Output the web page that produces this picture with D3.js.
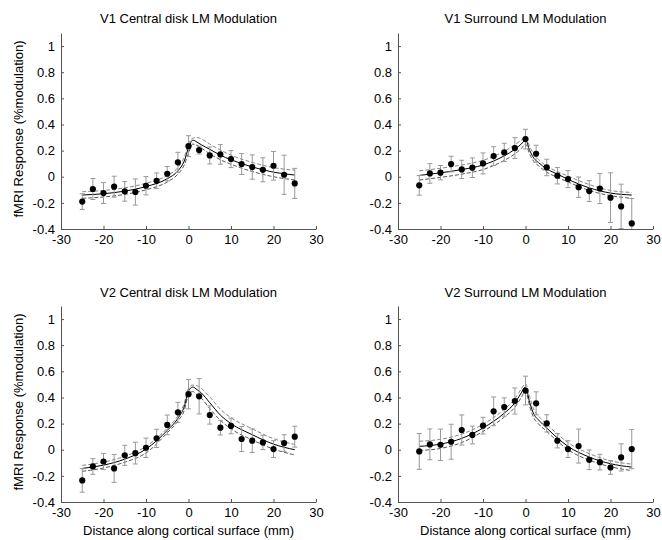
<!DOCTYPE html>
<html>
<head>
<meta charset="utf-8">
<script src="https://cdnjs.cloudflare.com/ajax/libs/d3/7.8.5/d3.min.js"></script>
<style>
  body { margin: 0; background: #fff; }
  text { font-family: "Liberation Sans", Arial, sans-serif; fill: #000; }
</style>
</head>
<body>
<div class="chart"></div>
<script>
// Distance along cortical surface (mm) for the measured points
var distances = [-25, -22.5, -20, -17.5, -15, -12.5, -10, -7.5, -5, -2.5, 0,
  2.5, 5, 7.5, 10, 12.5, 15, 17.5, 20, 22.5, 25];

// Sample positions
var fitDistances = [-25, -20, -15, -10, -5, -2.5, -1, 0, 1, 2, 3, 5, 7.5, 10, 15, 20, 25];

var titles = [
  "V1 Central disk LM Modulation",
  "V1 Surround LM Modulation",
  "V2 Central disk LM Modulation",
  "V2 Surround LM Modulation"
];

var xTicks = [-30, -20, -10, 0, 10, 20, 30];
var yTicks = [-0.4, -0.2, 0, 0.2, 0.4, 0.6, 0.8, 1];

// V1 central disk
var v1CenterMean = [-0.19, -0.094, -0.125, -0.076, -0.112, -0.117, -0.069, -0.031, 0.023, 0.11, 0.234,
  0.204, 0.163, 0.171, 0.135, 0.097, 0.074, 0.053, 0.084, 0.015, -0.051];
var v1CenterErr = [0.06, 0.08, 0.08, 0.08, 0.075, 0.1, 0.07, 0.06, 0.055, 0.077, 0.08,
  0.03, 0.065, 0.075, 0.065, 0.08, 0.093, 0.092, 0.11, 0.15, 0.115];
var v1CenterFit = [-0.14, -0.13, -0.11, -0.075, -0.015, 0.045, 0.12, 0.22, 0.28, 0.265, 0.245,
  0.21, 0.165, 0.13, 0.075, 0.035, 0.013];
var v1CenterFitHi = [-0.115, -0.105, -0.085, -0.05, 0.01, 0.07, 0.15, 0.25, 0.295, 0.3, 0.29,
  0.25, 0.205, 0.165, 0.11, 0.07, 0.05];
var v1CenterFitLo = [-0.165, -0.155, -0.135, -0.1, -0.04, 0.02, 0.09, 0.18, 0.25, 0.24, 0.22,
  0.175, 0.13, 0.095, 0.04, 0.0, -0.025];

// V1 surround
var v1SurroundMean = [-0.066, 0.025, 0.031, 0.097, 0.056, 0.069, 0.102, 0.158, 0.186, 0.219, 0.288,
  0.176, 0.071, 0.008, -0.018, -0.08, -0.11, -0.09, -0.16, -0.227, -0.357];
var v1SurroundErr = [0.075, 0.075, 0.055, 0.06, 0.07, 0.075, 0.08, 0.072, 0.07, 0.08, 0.075,
  0.065, 0.063, 0.063, 0.065, 0.078, 0.08, 0.115, 0.19, 0.17, 0.19];
var v1SurroundFit = [0.01, 0.03, 0.055, 0.09, 0.16, 0.21, 0.25, 0.28, 0.2, 0.14, 0.11,
  0.06, 0.02, -0.02, -0.085, -0.125, -0.14];
var v1SurroundFitHi = [0.045, 0.065, 0.09, 0.125, 0.195, 0.245, 0.28, 0.305, 0.23, 0.17, 0.135,
  0.08, 0.04, 0.005, -0.06, -0.105, -0.12];
var v1SurroundFitLo = [-0.025, -0.005, 0.02, 0.055, 0.125, 0.175, 0.215, 0.25, 0.17, 0.115, 0.085,
  0.035, -0.005, -0.04, -0.105, -0.145, -0.165];

// V2 central disk
var v2CenterMean = [-0.235, -0.128, -0.09, -0.143, -0.043, -0.026, 0.015, 0.087, 0.19, 0.286, 0.425,
  0.409, 0.266, 0.169, 0.182, 0.082, 0.069, 0.056, 0.005, 0.051, 0.1];
var v2CenterErr = [0.09, 0.06, 0.062, 0.107, 0.077, 0.083, 0.074, 0.07, 0.075, 0.077, 0.112,
  0.135, 0.07, 0.056, 0.06, 0.096, 0.09, 0.055, 0.064, 0.064, 0.08];
var v2CenterFit = [-0.143, -0.118, -0.072, 0.005, 0.148, 0.24, 0.33, 0.45, 0.48, 0.46, 0.435,
  0.36, 0.265, 0.2, 0.115, 0.043, 0.0];
var v2CenterFitHi = [-0.12, -0.095, -0.05, 0.025, 0.165, 0.26, 0.355, 0.47, 0.495, 0.49, 0.47,
  0.405, 0.31, 0.245, 0.16, 0.085, 0.04];
var v2CenterFitLo = [-0.165, -0.14, -0.095, -0.025, 0.13, 0.22, 0.3, 0.42, 0.445, 0.42, 0.395,
  0.315, 0.225, 0.16, 0.075, 0.005, -0.04];

// V2 surround
var v2SurroundMean = [-0.013, 0.041, 0.038, 0.061, 0.151, 0.113, 0.184, 0.294, 0.327, 0.373, 0.453,
  0.355, 0.202, 0.069, 0.005, 0.028, -0.077, -0.095, -0.136, -0.059, 0.005];
var v2SurroundErr = [0.137, 0.118, 0.12, 0.134, 0.115, 0.068, 0.064, 0.11, 0.07, 0.1, 0.11,
  0.088, 0.066, 0.055, 0.064, 0.13, 0.075, 0.06, 0.052, 0.104, 0.15];
var v2SurroundFit = [0.026, 0.043, 0.087, 0.166, 0.28, 0.358, 0.435, 0.48, 0.36, 0.27, 0.23,
  0.166, 0.09, 0.026, -0.056, -0.107, -0.133];
var v2SurroundFitHi = [0.065, 0.08, 0.12, 0.195, 0.31, 0.39, 0.465, 0.505, 0.4, 0.305, 0.26,
  0.195, 0.12, 0.055, -0.03, -0.085, -0.11];
var v2SurroundFitLo = [-0.005, 0.01, 0.055, 0.14, 0.25, 0.325, 0.4, 0.45, 0.33, 0.24, 0.2,
  0.14, 0.065, 0.0, -0.08, -0.13, -0.16];

var panels = [
  { title: titles[0], mean: v1CenterMean, err: v1CenterErr, fit: v1CenterFit, hi: v1CenterFitHi, lo: v1CenterFitLo, left: 61, top: 33, titleY: -10, yLabel: true, xLabel: false },
  { title: titles[1], mean: v1SurroundMean, err: v1SurroundErr, fit: v1SurroundFit, hi: v1SurroundFitHi, lo: v1SurroundFitLo, left: 398, top: 33, titleY: -10, yLabel: false, xLabel: false },
  { title: titles[2], mean: v2CenterMean, err: v2CenterErr, fit: v2CenterFit, hi: v2CenterFitHi, lo: v2CenterFitLo, left: 61, top: 306, titleY: -9, yLabel: true, xLabel: true },
  { title: titles[3], mean: v2SurroundMean, err: v2SurroundErr, fit: v2SurroundFit, hi: v2SurroundFitHi, lo: v2SurroundFitLo, left: 398, top: 306, titleY: -9, yLabel: false, xLabel: true }
];

var svgWidth = 662;
var svgHeight = 540;
var width = 255;
var height = 196;
var fontSize = "13px";

var svg = d3
  .select(".chart")
  .append("svg")
  .attr("width", svgWidth)
  .attr("height", svgHeight);

var xScale = d3.scaleLinear().domain([-30, 30]).range([0, width]);
var yScale = d3.scaleLinear().domain([-0.4, 1.1]).range([height, 0]);

// MATLAB prints a plain hyphen for negatives
var plainFormat = function (d) {
  var v = Math.round(d * 10) / 10;
  return (v < 0 ? "-" : "") + String(Math.abs(v));
};

// Clip so error bars stop at the bottom axis
svg.append("defs")
  .append("clipPath")
  .attr("id", "plotClip")
  .append("rect")
  .attr("x", -5)
  .attr("y", 0)
  .attr("width", width + 10)
  .attr("height", height);

panels.forEach(function (p) {
  var g = svg.append("g")
    .attr("transform", "translate(" + p.left + "," + p.top + ")");

  // Axes, MATLAB style with inward ticks
  var xAxis = d3.axisBottom(xScale).tickValues(xTicks).tickSizeInner(-3).tickSizeOuter(0).tickPadding(6)
    .tickFormat(plainFormat);
  var yAxis = d3.axisLeft(yScale).tickValues(yTicks).tickSizeInner(-3).tickSizeOuter(0).tickPadding(6)
    .tickFormat(plainFormat);

  var gx = g.append("g")
    .attr("transform", "translate(0," + height + ")")
    .call(xAxis);
  var gy = g.append("g").call(yAxis);

  [gx, gy].forEach(function (a) {
    a.select(".domain").attr("stroke", "#555");
    a.selectAll(".tick line").attr("stroke", "#555");
    a.selectAll(".tick text")
      .attr("font-size", fontSize)
      .attr("font-family", "Liberation Sans, Arial, sans-serif")
      .attr("fill", "#000");
  });
  gx.selectAll(".tick text").attr("dy", "0.71em");

  var data = g.append("g").attr("clip-path", "url(#plotClip)");

  // Fitted curve and its confidence bounds
  var fitLine = function (vals) {
    return d3.line()
      .x(function (d, i) { return xScale(fitDistances[i]); })
      .y(function (d) { return yScale(d); })
      .curve(d3.curveMonotoneX)(vals);
  };

  data.append("path")
    .attr("d", fitLine(p.hi))
    .attr("fill", "none")
    .attr("stroke", "#777")
    .attr("stroke-width", 0.9)
    .attr("stroke-dasharray", "4,2");

  data.append("path")
    .attr("d", fitLine(p.lo))
    .attr("fill", "none")
    .attr("stroke", "#444")
    .attr("stroke-width", 0.9)
    .attr("stroke-dasharray", "4,2");

  data.append("path")
    .attr("d", fitLine(p.fit))
    .attr("fill", "none")
    .attr("stroke", "#000")
    .attr("stroke-width", 1);

  // Error bars
  var bars = data.selectAll(".errbar")
    .data(distances)
    .enter()
    .append("g")
    .attr("class", "errbar");

  bars.append("line")
    .attr("x1", function (d) { return xScale(d); })
    .attr("x2", function (d) { return xScale(d); })
    .attr("y1", function (d, i) { return yScale(p.mean[i] + p.err[i]); })
    .attr("y2", function (d, i) { return yScale(p.mean[i] - p.err[i]); })
    .attr("stroke", "#999")
    .attr("stroke-width", 1);

  [1, -1].forEach(function (s) {
    bars.append("line")
      .attr("x1", function (d) { return xScale(d) - 2.5; })
      .attr("x2", function (d) { return xScale(d) + 2.5; })
      .attr("y1", function (d, i) { return yScale(p.mean[i] + s * p.err[i]); })
      .attr("y2", function (d, i) { return yScale(p.mean[i] + s * p.err[i]); })
      .attr("stroke", "#999")
      .attr("stroke-width", 1);
  });

  // Mean points
  data.selectAll("circle")
    .data(distances)
    .enter()
    .append("circle")
    .attr("cx", function (d) { return xScale(d); })
    .attr("cy", function (d, i) { return yScale(p.mean[i]); })
    .attr("r", 3.1)
    .attr("fill", "#000");

  // Title
  g.append("text")
    .attr("x", width / 2)
    .attr("y", p.titleY)
    .attr("text-anchor", "middle")
    .attr("font-size", fontSize)
    .text(p.title);

  if (p.yLabel) {
    g.append("text")
      .attr("transform", "rotate(-90)")
      .attr("x", -height / 2 + 2)
      .attr("y", -38)
      .attr("text-anchor", "middle")
      .attr("font-size", fontSize)
      .text("fMRI Response (%modulation)");
  }

  if (p.xLabel) {
    g.append("text")
      .attr("x", width / 2)
      .attr("y", height + 33)
      .attr("text-anchor", "middle")
      .attr("font-size", fontSize)
      .text("Distance along cortical surface (mm)");
  }
});
</script>
</body>
</html>
